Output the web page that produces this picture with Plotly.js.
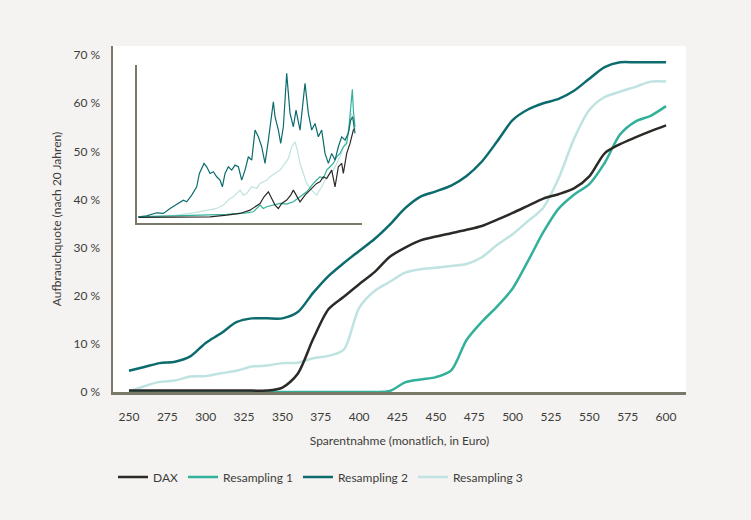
<!DOCTYPE html>
<html>
<head>
<meta charset="utf-8">
<script src="https://cdn.plot.ly/plotly-3.0.1.min.js"></script>
<style>
  html, body { margin: 0; padding: 0; background: #f4f3f1; }
  #chart { width: 751px; height: 520px; }
</style>
</head>
<body>
<div id="chart"></div>
<script>
// Sparentnahme in Euro
var entnahme = [250, 260, 270, 280, 290, 300, 310, 320, 330, 340, 350, 360, 370, 380, 390, 400, 410, 420,
  430, 440, 450, 460, 470, 480, 490, 500, 510, 520, 530, 540, 550, 560, 570, 580, 590, 600];

// Aufbrauchquote in %
var dax = [0.3, 0.3, 0.3, 0.3, 0.3, 0.3, 0.3, 0.3, 0.3, 0.3, 0.9, 3.8, 11.0, 17.2, 19.8, 22.4, 24.9, 28.1,
  30.0, 31.5, 32.3, 33.0, 33.7, 34.5, 35.8, 37.2, 38.7, 40.2, 41.1, 42.3, 44.8, 49.6, 51.5, 52.9, 54.2, 55.4];
var resampling1 = [0, 0, 0, 0, 0, 0, 0, 0, 0, 0, 0, 0, 0, 0, 0, 0, 0, 0.2,
  2.0, 2.6, 3.1, 4.5, 10.8, 14.6, 17.8, 21.5, 27.2, 33.2, 38.1, 41.0, 43.2, 47.6, 53.5, 56.2, 57.4, 59.4];
var resampling2 = [4.4, 5.2, 6.0, 6.3, 7.4, 10.2, 12.2, 14.5, 15.3, 15.3, 15.3, 16.6, 20.6, 24.1, 26.8, 29.3, 31.8, 34.8,
  38.2, 40.6, 41.7, 42.9, 44.9, 47.9, 52.1, 56.5, 58.7, 60.0, 60.9, 62.6, 65.1, 67.5, 68.5, 68.5, 68.5, 68.5];
var resampling3 = [0.1, 1.2, 2.1, 2.4, 3.2, 3.3, 3.9, 4.4, 5.3, 5.5, 6.0, 6.1, 7.0, 7.5, 8.8, 17.5, 21.0, 22.9,
  24.8, 25.5, 25.8, 26.2, 26.6, 28.0, 30.6, 32.8, 35.5, 38.3, 44.4, 52.6, 58.6, 61.3, 62.4, 63.4, 64.5, 64.5];

var yTicks = [0, 10, 20, 30, 40, 50, 60, 70];
var yTickText = ["0 %", "10 %", "20 %", "30 %", "40 %", "50 %", "60 %", "70 %"];
var xTicks = [250, 275, 300, 325, 350, 375, 400, 425, 450, 475, 500, 525, 550, 575, 600];

// kleine Grafik: Kursverlaeufe (Zeit, Indexstand), ohne Beschriftung
var insetDaxT = [0, 115, 215, 265, 305, 335, 365, 377, 390, 400, 410, 420, 430, 445, 457, 465, 475, 485, 500, 515, 525, 535, 545, 555, 565, 580, 590, 600, 610, 615, 625, 635, 645, 650];
var insetDaxV = [-2, -1, 0, 5, 10, 20, 40, 60, 75, 55, 35, 25, 40, 50, 65, 80, 60, 45, 65, 80, 90, 100, 105, 120, 115, 140, 90, 150, 160, 130, 190, 220, 260, 265];
var insetR1T = [0, 165, 265, 325, 345, 365, 375, 385, 405, 425, 445, 465, 485, 505, 525, 535, 545, 555, 565, 575, 585, 595, 605, 615, 625, 631, 637, 642, 645, 650];
var insetR1V = [0, 4, 7, 12, 15, 35, 25, 30, 35, 40, 38, 45, 60, 75, 100, 110, 120, 115, 140, 150, 160, 180, 190, 210, 220, 260, 340, 382, 320, 270];
var insetR2T = [0, 25, 55, 75, 95, 110, 120, 135, 145, 160, 175, 183, 197, 205, 215, 225, 235, 245, 252, 260, 270, 280, 290, 300, 310, 320, 330, 340,
  350, 360, 370, 380, 390, 405, 410, 420, 427, 435, 445, 455, 465, 473, 485, 500, 510, 520, 530, 540, 550, 560, 570, 580, 590, 600, 610, 620, 630, 637, 643, 650];
var insetR2V = [0, 3, 12, 10, 25, 35, 40, 50, 45, 65, 90, 130, 160, 150, 130, 135, 120, 110, 90, 130, 150, 140, 155, 150, 110, 140, 180, 170,
  260, 240, 210, 160, 230, 345, 300, 260, 220, 270, 430, 310, 270, 320, 260, 400, 310, 260, 280, 240, 260, 190, 160, 190, 170, 210, 240, 230, 250, 290, 300, 250];
var insetR3T = [0, 65, 115, 165, 205, 235, 255, 275, 285, 305, 315, 325, 340, 355, 365, 385, 395, 410, 425, 440, 450, 460, 470, 477, 485, 495, 505, 520, 535, 550, 565, 585, 605, 620, 630, 640, 647];
var insetR3V = [0, 3, 5, 12, 20, 25, 35, 55, 60, 80, 65, 70, 90, 85, 100, 110, 120, 130, 140, 160, 175, 210, 225, 200, 160, 130, 100, 80, 65, 90, 120, 140, 180, 220, 260, 310, 280];

var colDax = "#2b2a26", colR1 = "#33b09a", colR2 = "#0c6b6d", colR3 = "#bfe3e0";
var axisCol = "#7a7868";

var traces = [
  { x: entnahme, y: resampling3, name: "Resampling 3", type: "scatter", mode: "lines",
    line: { color: colR3, width: 2.5, shape: "spline", smoothing: 0.8 }, legendrank: 4 },
  { x: entnahme, y: resampling1, name: "Resampling 1", type: "scatter", mode: "lines",
    line: { color: colR1, width: 2.5, shape: "spline", smoothing: 0.8 }, legendrank: 2 },
  { x: entnahme, y: resampling2, name: "Resampling 2", type: "scatter", mode: "lines",
    line: { color: colR2, width: 2.5, shape: "spline", smoothing: 0.8 }, legendrank: 3 },
  { x: entnahme, y: dax, name: "DAX", type: "scatter", mode: "lines",
    line: { color: colDax, width: 2.5, shape: "spline", smoothing: 0.8 }, legendrank: 1 },

  { x: insetR3T, y: insetR3V, xaxis: "x2", yaxis: "y2", mode: "lines", showlegend: false, hoverinfo: "skip",
    line: { color: colR3, width: 1.2 } },
  { x: insetR1T, y: insetR1V, xaxis: "x2", yaxis: "y2", mode: "lines", showlegend: false, hoverinfo: "skip",
    line: { color: colR1, width: 1.2 } },
  { x: insetDaxT, y: insetDaxV, xaxis: "x2", yaxis: "y2", mode: "lines", showlegend: false, hoverinfo: "skip",
    line: { color: colDax, width: 1.2 } },
  { x: insetR2T, y: insetR2V, xaxis: "x2", yaxis: "y2", mode: "lines", showlegend: false, hoverinfo: "skip",
    line: { color: colR2, width: 1.2 } }
];

var layout = {
  width: 751,
  height: 520,
  paper_bgcolor: "#f4f3f1",
  plot_bgcolor: "#ffffff",
  margin: { l: 113, r: 65, t: 46, b: 128 },
  font: { family: "Lato, 'Open Sans', sans-serif", size: 12, color: "#3d3d3a" },
  showlegend: true,
  legend: {
    orientation: "h", x: 0, xanchor: "left", y: -0.246, yanchor: "middle",
    bgcolor: "rgba(0,0,0,0)", font: { size: 12, color: "#3d3d3a" }
  },
  xaxis: {
    range: [239.6, 613], tickvals: xTicks,
    showgrid: false, zeroline: false, showline: true, linecolor: axisCol, linewidth: 2.5,
    ticks: "outside", ticklen: 12, tickcolor: "rgba(0,0,0,0)",
    title: { text: "Sparentnahme (monatlich, in Euro)", standoff: 14, font: { size: 12 } }
  },
  yaxis: {
    range: [0, 71.9], tickmode: "array", tickvals: yTicks, ticktext: yTickText,
    showgrid: false, zeroline: false, showline: true, linecolor: axisCol, linewidth: 2.5,
    ticks: "outside", ticklen: 8, tickcolor: "rgba(0,0,0,0)",
    title: { text: "Aufbrauchquote (nach 20 Jahren)", standoff: 10, font: { size: 12 } }
  },
  xaxis2: {
    domain: [0.0414, 0.434], range: [-5, 670], anchor: "y2",
    showgrid: false, zeroline: false, showticklabels: false, ticks: "",
    showline: true, linecolor: axisCol, linewidth: 2
  },
  yaxis2: {
    domain: [0.489, 0.945], range: [-18, 455], anchor: "x2",
    showgrid: false, zeroline: false, showticklabels: false, ticks: "",
    showline: true, linecolor: axisCol, linewidth: 2
  }
};

Plotly.newPlot("chart", traces, layout, { displayModeBar: false, staticPlot: true });
</script>
</body>
</html>
